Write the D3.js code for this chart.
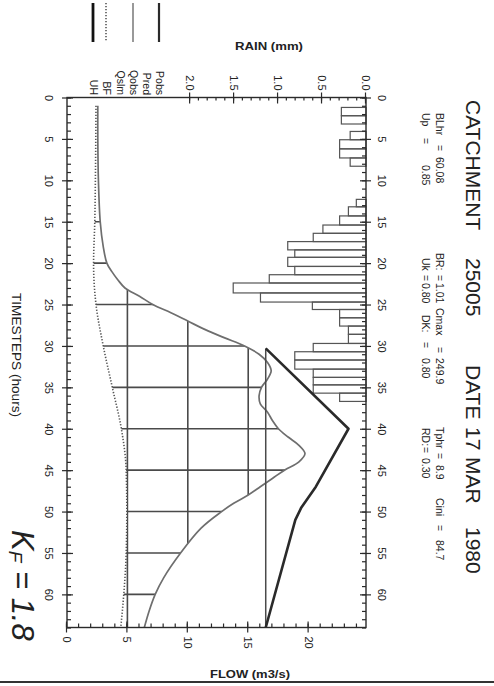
<!DOCTYPE html>
<html><head><meta charset="utf-8">
<script src="https://cdn.jsdelivr.net/npm/d3@7"></script>
<style>
body{margin:0;background:#fff}
svg{display:block}
text{font-family:"Liberation Sans",Arial,sans-serif;fill:#222}
</style>
</head><body>
<svg id="c" width="494" height="686"></svg>
<script>
// ---------------- data ----------------
const rainStart = [1.2,2.2,4.1,5.1,6.2,7.3,12.3,13.2,14.3,15.4,16.4,17.4,18.4,19.3,20.4,21.4,22.4,23.6,24.7,25.6,26.6,27.6,28.6,29.7,30.7,31.7,32.8,33.8,34.7,35.7];
const rainValue = [0.28,0.28,0.18,0.30,0.30,0.18,0.11,0.20,0.30,0.49,0.60,0.89,0.81,0.89,0.81,1.10,1.51,1.20,0.61,0.30,0.30,0.20,0.20,0.60,0.81,0.81,0.60,0.60,0.60,0.30];

const qobsTime = [1,5,10,15,18,20,21,22,23,24,25,26,27,28,29,30,31,32,33,34,35,36,37,38,39,40,41,42,43,44,45,46,47,48,49,50,52,55,58,60,62,64];
const qobsFlow = [2.55,2.55,2.6,2.75,3.0,3.3,3.7,4.2,4.8,6.0,7.1,8.6,10.0,11.4,13.0,14.7,15.9,16.6,16.9,16.6,16.1,15.9,16.0,16.6,17.0,17.5,18.3,19.2,19.7,19.2,18.0,17.0,16.0,15.0,13.8,12.8,11.1,9.4,8.0,7.3,6.8,6.4];

const bfTime = [1,10,15,20,25,30,35,40,45,50,55,60,64];
const bfFlow = [2.4,2.35,2.3,2.2,2.4,3.0,3.75,4.5,4.9,4.95,4.9,4.7,4.45];

const uhTime = [30.3,40,47,49.5,51,64];
const uhFlow = [16.45,23.3,20.6,19.4,18.9,16.45];
const uhBase = 16.45;

const timeTicks = [0,5,10,15,20,25,30,35,40,45,50,55,60];
const flowTicks = [0,5,10,15,20];
const rainTicks = [0,0.5,1.0,1.5,2.0];
const gridTimes = [15,20,25,30,35,40,45,50,55,60];
const gridFlows = [5,10,15];

const legendLabels = ["Pobs","Pred","Qobs","Qslm","BF","UH"];
const titleParts = ["CATCHMENT","25005","DATE","17","MAR","1980"];
const paramRow1 = [["BLhr","=","60.08"],["BR:","=","1.01"],["Cmax","=","249.9"],["Tphr","=","8.9"],["Cini","=","84.7"]];
const paramRow2 = [["Up","=","0.85"],["Uk","=","0.80"],["DK:","=","0.80"],["RD:","=","0.30"]];

// ---------------- layout ----------------
const svg = d3.select("#c");
// chart is drawn in landscape and rotated 90deg clockwise onto the page
const g = svg.append("g").attr("transform","translate(494,0) rotate(90)");

const L = 97.5, R = 627.5, T = 128, B = 427;
const x = d3.scaleLinear().domain([0,64]).range([L,R]);
const yF = d3.scaleLinear().domain([0,24.75]).range([B,T]);
const yR = d3.scaleLinear().domain([0,3.4]).range([T,B]);

const INK = "#2a2a2a";

// ---------- rain bars ----------
const rainG = g.append("g");
rainStart.forEach((s,i)=>{
  const nxt = rainStart[i+1];
  const e = (nxt !== undefined && nxt - s < 1.3) ? nxt : s + 1;
  rainG.append("rect")
    .attr("x", x(s)).attr("width", x(e)-x(s))
    .attr("y", yR(0)).attr("height", yR(rainValue[i]) - yR(0))
    .attr("fill","none").attr("stroke","#555").attr("stroke-width",1.2);
});

// ---------- grid clipped between BF and Qobs ----------
const lineQ = d3.line().x((d,i)=>x(qobsTime[i])).y((d,i)=>yF(qobsFlow[i])).curve(d3.curveCatmullRom);
const lineB = d3.line().x(d=>x(d[0])).y(d=>yF(d[1])).curve(d3.curveMonotoneX);
const bfPts = bfTime.map((t,i)=>[t,bfFlow[i]]);
const qPath = lineQ(qobsTime);
const bRev = lineB(bfPts.slice().reverse()).replace(/^M/,"L");
g.append("clipPath").attr("id","under").append("path").attr("d", qPath + bRev + "Z");

const gridG = g.append("g").attr("clip-path","url(#under)");
gridTimes.forEach(t=>{
  gridG.append("line").attr("x1",x(t)).attr("x2",x(t)).attr("y1",T).attr("y2",B)
    .attr("stroke","#4a4a4a").attr("stroke-width",1.6);
});
gridFlows.forEach(f=>{
  gridG.append("line").attr("x1",L).attr("x2",R).attr("y1",yF(f)).attr("y2",yF(f))
    .attr("stroke","#4a4a4a").attr("stroke-width",1.6);
});

// ---------- BF ----------
g.append("path").attr("d", lineB(bfPts)).attr("fill","none")
  .attr("stroke","#555").attr("stroke-width",1.6).attr("stroke-dasharray","1.3,1.7");

// ---------- Qobs ----------
g.append("path").attr("d", qPath).attr("fill","none")
  .attr("stroke","#6e6e6e").attr("stroke-width",1.7);

// ---------- UH ----------
g.append("line").attr("x1",x(uhTime[0])).attr("x2",x(uhTime[uhTime.length-1]))
  .attr("y1",yF(uhBase)).attr("y2",yF(uhBase)).attr("stroke","#4a4a4a").attr("stroke-width",1.5);
const lineU = d3.line().x((d,i)=>x(uhTime[i])).y((d,i)=>yF(uhFlow[i]));
g.append("path").attr("d", lineU(uhTime)).attr("fill","none")
  .attr("stroke",INK).attr("stroke-width",2.6).attr("stroke-linejoin","round");

// ---------- axes ----------
function styleAxis(sel, labels){
  sel.attr("font-family",null).attr("font-size",null);
  sel.selectAll("path.domain").remove();
  sel.selectAll("line").attr("stroke",INK).attr("stroke-width",1.2);
  sel.selectAll("text").attr("font-size",11).attr("fill","#222");
  if(!labels) sel.selectAll("text").remove();
}
const minorT = d3.range(0,65,1);
// bottom (time)
g.append("g").attr("transform",`translate(0,${B})`)
  .call(d3.axisBottom(x).tickValues(timeTicks).tickSize(5).tickPadding(9).tickSizeOuter(0)).call(s=>styleAxis(s,true));
g.append("g").attr("transform",`translate(0,${B})`)
  .call(d3.axisBottom(x).tickValues(minorT).tickSize(-4).tickFormat("").tickSizeOuter(0)).call(s=>styleAxis(s,false));
g.append("g").attr("transform",`translate(0,${B})`)
  .call(d3.axisBottom(x).tickValues(timeTicks).tickSize(-6).tickFormat("").tickSizeOuter(0)).call(s=>styleAxis(s,false));
// top (time)
g.append("g").attr("transform",`translate(0,${T})`)
  .call(d3.axisTop(x).tickValues(timeTicks).tickSize(5).tickPadding(7).tickSizeOuter(0)).call(s=>styleAxis(s,true));
g.append("g").attr("transform",`translate(0,${T})`)
  .call(d3.axisTop(x).tickValues(minorT).tickSize(-4).tickFormat("").tickSizeOuter(0)).call(s=>styleAxis(s,false));
g.append("g").attr("transform",`translate(0,${T})`)
  .call(d3.axisTop(x).tickValues(timeTicks).tickSize(-6).tickFormat("").tickSizeOuter(0)).call(s=>styleAxis(s,false));
// left (rain)
g.append("g").attr("transform",`translate(${L},0)`)
  .call(d3.axisLeft(yR).tickValues(rainTicks).tickFormat(d3.format(".1f")).tickSize(5).tickPadding(2).tickSizeOuter(0)).call(s=>styleAxis(s,true));
g.append("g").attr("transform",`translate(${L},0)`)
  .call(d3.axisLeft(yR).tickValues(d3.range(0,2.05,0.1)).tickSize(-3).tickFormat("").tickSizeOuter(0)).call(s=>styleAxis(s,false));
g.append("g").attr("transform",`translate(${L},0)`)
  .call(d3.axisLeft(yR).tickValues(rainTicks).tickSize(-6).tickFormat("").tickSizeOuter(0)).call(s=>styleAxis(s,false));
// right (flow)
g.append("g").attr("transform",`translate(${R},0)`)
  .call(d3.axisRight(yF).tickValues(flowTicks).tickSize(5).tickPadding(4).tickSizeOuter(0)).call(s=>styleAxis(s,true));
g.append("g").attr("transform",`translate(${R},0)`)
  .call(d3.axisRight(yF).tickValues(d3.range(0,25,1)).tickSize(-4).tickFormat("").tickSizeOuter(0)).call(s=>styleAxis(s,false));
g.append("g").attr("transform",`translate(${R},0)`)
  .call(d3.axisRight(yF).tickValues(flowTicks).tickSize(-6).tickFormat("").tickSizeOuter(0)).call(s=>styleAxis(s,false));

// frame
g.append("rect").attr("x",L).attr("y",T).attr("width",R-L).attr("height",B-T)
  .attr("fill","none").attr("stroke",INK).attr("stroke-width",1.4);

// ---------- axis titles ----------
g.append("text").attr("x",293).attr("y",482).attr("font-size",13)
  .attr("textLength",124).attr("lengthAdjust","spacingAndGlyphs").text("TIMESTEPS (hours)");
g.append("text").attr("transform","translate(50,225) rotate(-90)").attr("text-anchor","middle")
  .attr("font-size",11).attr("font-weight","bold").attr("textLength",68).attr("lengthAdjust","spacingAndGlyphs").text("RAIN (mm)");
g.append("text").attr("transform","translate(678,244) rotate(-90)").attr("text-anchor","middle")
  .attr("font-size",11).attr("font-weight","bold").attr("textLength",80).attr("lengthAdjust","spacingAndGlyphs").text("FLOW (m3/s)");

// ---------- legend ----------
const legY = [334,347,360,373,387,400];
legendLabels.forEach((s,i)=>{
  g.append("text").attr("x",95).attr("y",legY[i]+4).attr("text-anchor","end")
    .attr("font-size",10.5).text(s);
});
const legLine = (y,stroke,w,dash)=>{
  const l = g.append("line").attr("x1",3).attr("x2",42).attr("y1",y).attr("y2",y)
    .attr("stroke",stroke).attr("stroke-width",w);
  if(dash) l.attr("stroke-dasharray",dash);
};
legLine(335,INK,2.2);
legLine(361,"#777",1.5);
legLine(388,"#555",1.6,"1.3,1.7");
legLine(401,"#111",2.8);

// ---------- title ----------
const titleX = [100,258,365,427,457,527];
titleParts.forEach((s,i)=>{
  g.append("text").attr("x",titleX[i]).attr("y",28).attr("font-size",21).text(s);
});

// ---------- parameters ----------
const row1X = [[113,145,157],[253,275,283],[308,347,358],[427,453,465],[498,525,540]];
const row2X = [[113,138,165],[258,275,283],[315,342,358],[428,447,458]];
paramRow1.forEach((p,i)=>p.forEach((s,j)=>{
  g.append("text").attr("x",row1X[i][j]).attr("y",58).attr("font-size",10.5).text(s);
}));
paramRow2.forEach((p,i)=>p.forEach((s,j)=>{
  g.append("text").attr("x",row2X[i][j]).attr("y",72).attr("font-size",10.5).text(s);
}));

// ---------- handwritten note ----------
const kf = g.append("text").attr("x",530).attr("y",482)
  .attr("font-family","DejaVu Serif").attr("font-style","italic").attr("font-size",31).attr("fill","#333");
kf.append("tspan").text("K");
kf.append("tspan").attr("font-size",19).attr("dy",3).text("F");
kf.append("tspan").attr("dy",-3).text(" = 1.8");

// page edge
g.append("line").attr("x1",682).attr("x2",682).attr("y1",0).attr("y2",494)
  .attr("stroke","#333").attr("stroke-width",2);
</script>
</body></html>
